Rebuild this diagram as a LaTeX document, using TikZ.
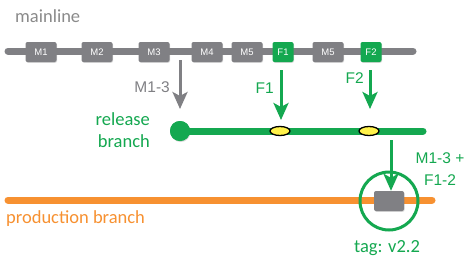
\documentclass[tikz,border=0pt]{standalone}
\usepackage{fontspec}
\setmainfont{Carlito}
\newfontfamily\lab{Liberation Sans}
\usetikzlibrary{arrows.meta,shadows,shapes.geometric}
\definecolor{cgray}{HTML}{808084}
\definecolor{cgreen}{HTML}{14A850}
\definecolor{corange}{HTML}{F79131}
\definecolor{ctext}{HTML}{8A8A8A}
\definecolor{cyellow}{HTML}{FFF24A}
\tikzset{
  commit/.style={draw=none, fill=#1, rounded corners=2pt, minimum height=20pt, inner sep=0pt,
     text=white, font=\lab\fontsize{9.5}{10}\selectfont, drop shadow={shadow xshift=0.6pt, shadow yshift=-0.8pt, opacity=0.3}},
  mcommit/.style={commit=cgray, minimum width=31pt},
  fcommit/.style={commit=cgreen, minimum width=21pt},
  branchline/.style={line width=7pt, line cap=round},
  mergearrow/.style={line width=3pt, -{Stealth[width=15pt,length=17pt,inset=4pt]}},
  bigtext/.style={font=\fontsize{18.5}{22}\selectfont, inner sep=0pt},
  arrowlab/.style={font=\lab\fontsize{15.5}{22}\selectfont, inner sep=0pt},
  feat/.style={ellipse, draw=black, line width=1.3pt, fill=cyellow, minimum width=20pt, minimum height=9pt, inner sep=0pt},
}
\begin{document}
\begin{tikzpicture}[x=1pt,y=-1pt]
\useasboundingbox[fill=white] (0,0) rectangle (472,263);
% mainline
\node[bigtext, text=ctext, anchor=base west] (mainlbl) at (15,22) {mainline};
\coordinate (ms) at (8,51);
\coordinate (me) at (413,51);
\draw[branchline, cgray] (ms) -- (me);
\node[mcommit] (m1) at (41,52) {M1};
\node[mcommit] (m2) at (97,52) {M2};
\node[mcommit] (m3) at (154,52) {M3};
\node[mcommit] (m4) at (207,52) {M4};
\node[mcommit] (m5) at (247,52) {M5};
\node[fcommit] (f1) at (283,52) {F1};
\node[mcommit] (m5b) at (328,52) {M5};
\node[fcommit] (f2) at (371,52) {F2};
% release branch
\coordinate (re) at (423,131);
\node[circle, fill=cgreen, minimum size=20pt, inner sep=0pt, drop shadow={shadow xshift=0.6pt, shadow yshift=-1pt, opacity=0.3}] (rdot) at (180,131) {};
\draw[branchline, cgreen] (rdot.center) -- (re);
\node[circle, fill=cgreen, minimum size=20pt, inner sep=0pt] at (rdot) {};
\node[feat] (y1) at (280,131) {};
\node[feat] (y2) at (369,131) {};
\node[bigtext, text=cgreen, align=right, anchor=base east] (rellbl) at (150,147) {release\\branch};
% arrows into release
\coordinate (a1s) at (180,60);
\coordinate (a1e) at (180,109);
\draw[mergearrow, cgray] (a1s) -- (a1e);
\node[arrowlab, text=cgray, anchor=base east] (l1) at (170,92) {M1-3};
\coordinate (a2s) at (281,70);
\coordinate (a2e) at (281,120);
\draw[mergearrow, cgreen] (a2s) -- (a2e);
\node[arrowlab, text=cgreen, anchor=base east] (l2) at (274,93) {F1};
\coordinate (a3s) at (370,70);
\coordinate (a3e) at (370,109);
\draw[mergearrow, cgreen] (a3s) -- (a3e);
\node[arrowlab, text=cgreen, anchor=base east] (l3) at (364,83) {F2};
% production branch
\coordinate (ps) at (8,200);
\coordinate (pe) at (432,200);
\draw[branchline, corange] (ps) -- (pe);
\node[bigtext, text=corange, anchor=base west] (prodlbl) at (6,223) {production branch};
\node[mcommit, minimum width=30pt] (tagc) at (389,201) {};
\node[circle, draw=cgreen, line width=3pt, minimum size=58pt, inner sep=0pt] (ring) at (389,201) {};
\coordinate (a4s) at (391,140);
\draw[mergearrow, cgreen] (a4s) -- (tagc.north -| a4s);
\node[arrowlab, text=cgreen, align=center, anchor=base] (l4) at (440,185) {M1-3 +\\F1-2};
\node[bigtext, text=cgreen, anchor=base] (taglbl) at (387,252) {tag: v2.2};
\end{tikzpicture}
\end{document}
